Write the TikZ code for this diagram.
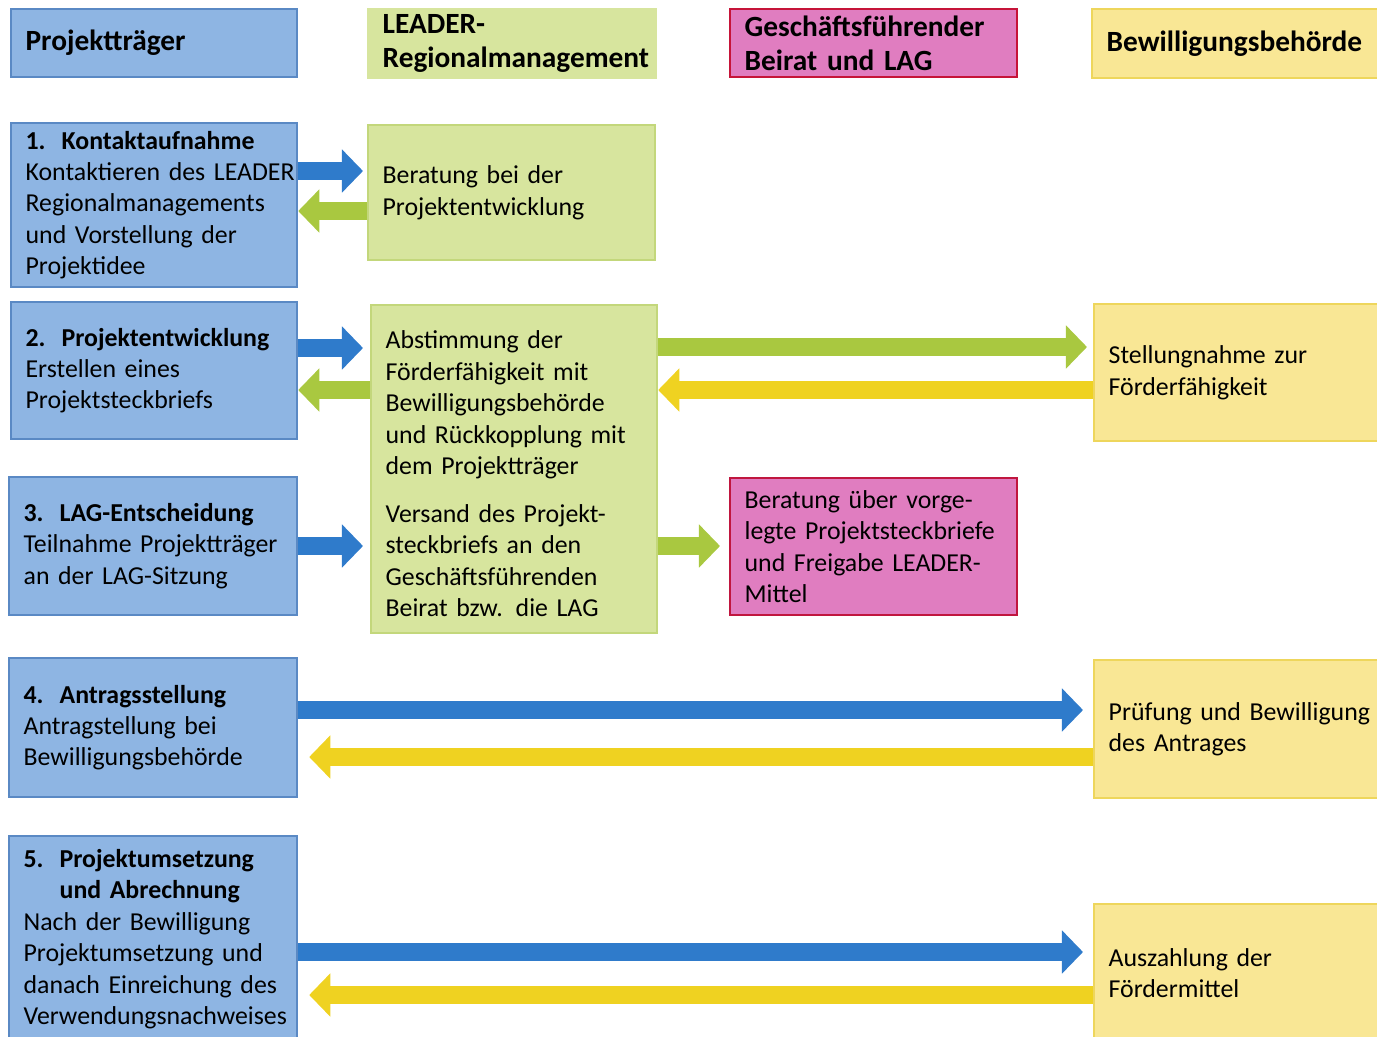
\documentclass[tikz,border=0pt]{standalone}
\usepackage{fontspec}
\setmainfont{Carlito}
\usetikzlibrary{arrows.meta}

\definecolor{traegerfill}{HTML}{8EB5E3}
\definecolor{traegerrand}{HTML}{5A89C4}
\definecolor{regiofill}{HTML}{D7E59E}
\definecolor{regiorand}{HTML}{C3D77B}
\definecolor{beiratfill}{HTML}{E07DC0}
\definecolor{beiratrand}{HTML}{C0163F}
\definecolor{behoerdefill}{HTML}{F9E795}
\definecolor{behoerderand}{HTML}{EED65C}
\definecolor{pfeilblau}{HTML}{2F7BCB}
\definecolor{pfeilgruen}{HTML}{A9C840}
\definecolor{pfeilgelb}{HTML}{EFD221}

\tikzset{
	kasten/.style={draw, rectangle, anchor=north west, align=left, inner xsep=0.29cm, inner ysep=0pt, line width=1.3pt, font=\fontsize{14.7}{17.9}\selectfont},
	kopf/.style={kasten, font=\fontsize{16.7}{19}\selectfont\bfseries},
	traeger/.style={fill=traegerfill, draw=traegerrand},
	regio/.style={fill=regiofill, draw=regiorand},
	beirat/.style={fill=beiratfill, draw=beiratrand},
	behoerde/.style={fill=behoerdefill, draw=behoerderand},
	pfeil/.style={line width=10pt, -{Triangle[width=24pt,length=12pt]}},
}

\begin{document}
\begin{tikzpicture}[x=0.02cm, y=-0.02cm]
	\useasboundingbox (0,0) rectangle (1377,1036);
	\node[kopf, traeger, minimum width=5.72cm, minimum height=1.36cm, text width=5.14cm] (Projekttraeger) at (10,8) {Projektträger};
	\node[kopf, regio, draw=regiofill, minimum width=5.76cm, minimum height=1.38cm, text width=5.18cm] (Regionalmanagement) at (367,8) {LEADER-\\\mbox{Regionalmanagement}};
	\node[kopf, beirat, draw=beiratrand!90!red, minimum width=5.74cm, minimum height=1.36cm, text width=5.16cm] (Beirat) at (729,8) {Geschäftsführender\\Beirat und LAG};
	\node[kopf, behoerde, minimum width=5.8cm, minimum height=1.38cm, text width=5.22cm] (Bewilligungsbehoerde) at (1091,8) {\mbox{Bewilligungsbehörde}};

	\node[kasten, traeger, minimum width=5.72cm, minimum height=3.28cm, text width=5.14cm] (Kontaktaufnahme) at (10,122) {\textbf{\makebox[0.72cm][l]{1.}Kontaktaufnahme}\\\mbox{Kontaktieren des LEADER}\\Regionalmanagements\\und Vorstellung der\\Projektidee};
	\node[kasten, traeger, minimum width=5.72cm, minimum height=2.74cm, text width=5.14cm] (Projektentwicklung) at (10,301) {\textbf{\makebox[0.72cm][l]{2.}Projektentwicklung}\\Erstellen eines\\Projektsteckbriefs};
	\node[kasten, traeger, minimum width=5.76cm, minimum height=2.76cm, text width=5.18cm] (LAG-Entscheidung) at (8,476) {\textbf{\makebox[0.72cm][l]{3.}LAG-Entscheidung}\\\mbox{Teilnahme Projektträger}\\an der LAG-Sitzung};
	\node[kasten, traeger, minimum width=5.76cm, minimum height=2.78cm, text width=5.18cm] (Antragsstellung) at (8,657) {\textbf{\makebox[0.72cm][l]{4.}Antragsstellung}\\Antragstellung bei\\Bewilligungsbehörde};
	\node[kasten, traeger, minimum width=5.76cm, minimum height=4.12cm, text width=5.18cm] (Projektumsetzung) at (8,835) {\textbf{\makebox[0.72cm][l]{5.}Projektumsetzung}\\\textbf{\hspace*{0.72cm}und Abrechnung}\\Nach der Bewilligung\\Projektumsetzung und\\danach Einreichung des\\\mbox{Verwendungsnachweises}};

	\node[kasten, regio, minimum width=5.74cm, minimum height=2.7cm, text width=5.16cm] (Beratung) at (367,124) {Beratung bei der\\Projektentwicklung};
	\node[kasten, regio, minimum width=5.72cm, minimum height=6.56cm, text width=5.14cm] (Abstimmung) at (370,304) {\rule{0pt}{0.55cm}Abstimmung der\\Förderfähigkeit mit\\Bewilligungsbehörde\\und Rückkopplung mit\\dem Projektträger\\[0.33cm]Versand des Projekt-\\steckbriefs an den\\Geschäftsführenden\\Beirat bzw. die LAG};
	\node[kasten, beirat, minimum width=5.74cm, minimum height=2.74cm, text width=5.16cm] (Freigabe) at (729,477) {Beratung über vorge-\\\mbox{legte Projektsteckbriefe}\\und Freigabe LEADER-\\Mittel};
	\node[kasten, behoerde, minimum width=5.8cm, minimum height=2.74cm, text width=5.22cm] (Stellungnahme) at (1093,303) {Stellungnahme zur\\Förderfähigkeit};
	\node[kasten, behoerde, minimum width=5.8cm, minimum height=2.76cm, text width=5.22cm] (Pruefung) at (1093,659) {\mbox{Prüfung und Bewilligung}\\des Antrages};
	\node[kasten, behoerde, minimum width=5.8cm, minimum height=2.76cm, text width=5.22cm] (Auszahlung) at (1093,903) {Auszahlung der\\Fördermittel};

	\draw[pfeil, pfeilblau, shorten >=0.08cm] (Kontaktaufnahme.east |- 0,171) -- (Beratung.west |- 0,171);
	\draw[pfeil, pfeilgruen] (Beratung.west |- 0,211) -- (Kontaktaufnahme.east |- 0,211);
	\draw[pfeil, pfeilblau, shorten >=0.14cm] (Projektentwicklung.east |- 0,348) -- (Abstimmung.west |- 0,348);
	\draw[pfeil, pfeilgruen] (Abstimmung.west |- 0,390) -- (Projektentwicklung.east |- 0,390);
	\draw[pfeil, pfeilgruen, shorten >=0.12cm] (Abstimmung.east |- 0,347) -- (Stellungnahme.west |- 0,347);
	\draw[pfeil, pfeilgelb] (Stellungnahme.west |- 0,390) -- (Abstimmung.east |- 0,390);
	\draw[pfeil, pfeilblau, shorten >=0.14cm] (LAG-Entscheidung.east |- 0,546) -- (Abstimmung.west |- 0,546);
	\draw[pfeil, pfeilgruen, shorten >=0.18cm] (Abstimmung.east |- 0,546) -- (Freigabe.west |- 0,546);
	\draw[pfeil, pfeilblau, shorten >=0.2cm] (Antragsstellung.east |- 0,710) -- (Pruefung.west |- 0,710);
	\draw[pfeil, pfeilgelb, shorten >=0.22cm] (Pruefung.west |- 0,757) -- (Antragsstellung.east |- 0,757);
	\draw[pfeil, pfeilblau, shorten >=0.2cm] (Projektumsetzung.east |- 0,952) -- (Auszahlung.west |- 0,952);
	\draw[pfeil, pfeilgelb, shorten >=0.22cm] (Auszahlung.west |- 0,995) -- (Projektumsetzung.east |- 0,995);
\end{tikzpicture}
\end{document}
